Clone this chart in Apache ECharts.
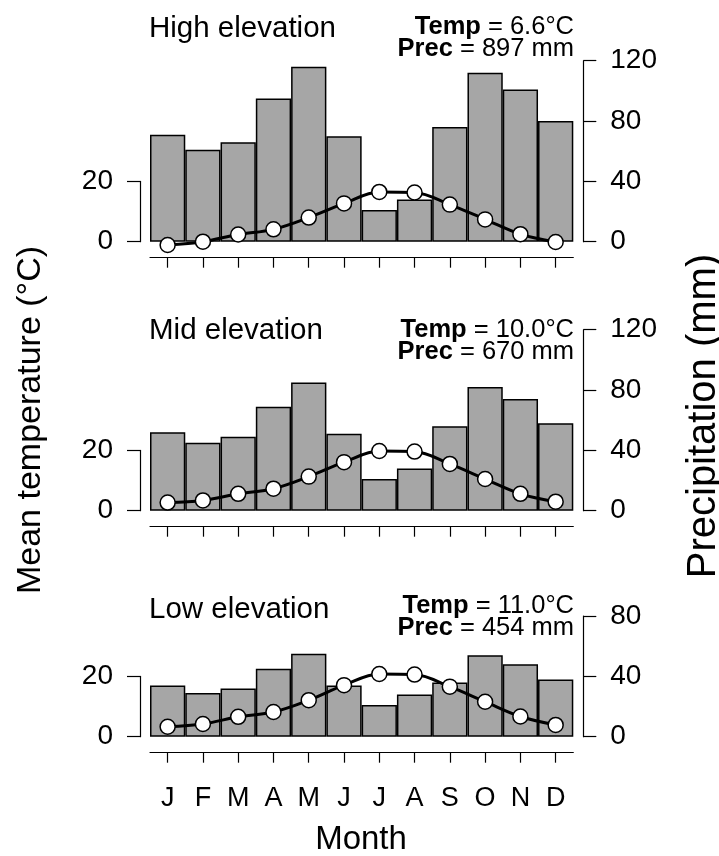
<!DOCTYPE html>
<html>
<head>
<meta charset="utf-8">
<script src="https://cdn.jsdelivr.net/npm/echarts@6/dist/echarts.min.js"></script>
<style>
html,body{margin:0;padding:0;background:#fff;}
#chart{width:719px;height:856px;}
</style>
</head>
<body>
<div id="chart"></div>
<script>
// ---------- data ----------
const months = ['J','F','M','A','M','J','J','A','S','O','N','D'];
const panelTitles = ['High elevation','Mid elevation','Low elevation'];
const tempLabels = ['6.6°C','10.0°C','11.0°C'];
const precLabels = ['897 mm','670 mm','454 mm'];

const precHigh = [71, 61, 66, 95, 116, 70, 21, 28, 76, 112, 101, 80];
const tempHigh = [-1.1, 0.0, 2.4, 4.1, 8.0, 12.7, 16.5, 16.3, 12.3, 7.4, 2.5, -0.1];
const precMid  = [52, 45, 49, 69, 85, 51, 21, 28, 56, 82, 74, 58];
const tempMid  = [2.7, 3.4, 5.6, 7.3, 11.3, 16.1, 19.8, 19.6, 15.5, 10.5, 5.6, 3.0];
const precLow  = [34, 29, 32, 45, 55, 34, 21, 28, 36, 54, 48, 38];
const tempLow  = [3.3, 4.2, 6.6, 8.2, 12.1, 17.1, 20.8, 20.6, 16.6, 11.6, 6.7, 3.9];

const precTicksMax = [120, 120, 80];
const tempTicks = [0, 20];
// ---------- layout ----------
const FONT = "'Liberation Sans', Arial, Helvetica, sans-serif";
const precSeries = [precHigh, precMid, precLow];
const tempSeries = [tempHigh, tempMid, tempLow];
const zeroY = [241.7, 510.7, 736.7];
const pxPerMm = 1.508;
const plotLeft = 150, plotRight = 573.3;
const W = 719;
const titleY = [29, 331, 610];
const tempY = [27, 330, 606];
const precY = [49, 352, 628];

const grid = [], xAxis = [], yAxis = [], series = [], graphic = [];
for (let i = 0; i < 3; i++) {
  const h = precTicksMax[i] * pxPerMm;
  const th = 40 * pxPerMm; // 20 °C == 40 mm
  grid.push({left: plotLeft, right: W - plotRight, top: zeroY[i] - h, height: h});
  grid.push({left: plotLeft, right: W - plotRight, top: zeroY[i] - th, height: th});
  const gMain = 2*i, gTemp = 2*i + 1;
  xAxis.push({
    type: 'category', gridIndex: gMain, data: months, position: 'bottom', offset: 16,
    boundaryGap: true,
    axisLine: {show: true, onZero: false, lineStyle: {color: '#000', width: 1.2}},
    axisTick: {show: true, alignWithLabel: true, length: 10, lineStyle: {color: '#000', width: 1.2}},
    axisLabel: {show: i === 2, color: '#000', fontSize: 27, fontFamily: FONT, margin: 32, interval: 0},
    splitLine: {show: false}
  });
  xAxis.push({type: 'category', gridIndex: gTemp, data: months, show: false, boundaryGap: true});
  yAxis.push({
    type: 'value', gridIndex: gMain, position: 'right', offset: 10,
    min: 0, max: precTicksMax[i], interval: 40,
    axisLine: {show: true, onZero: false, lineStyle: {color: '#000', width: 1.2}},
    axisTick: {show: true, length: 13, lineStyle: {color: '#000', width: 1.2}},
    axisLabel: {color: '#000', fontSize: 28, fontFamily: FONT, margin: 27},
    splitLine: {show: false}
  });
  yAxis.push({
    type: 'value', gridIndex: gTemp, position: 'left', offset: 10,
    min: tempTicks[0], max: tempTicks[1], interval: 20,
    axisLine: {show: true, onZero: false, lineStyle: {color: '#000', width: 1.2}},
    axisTick: {show: true, length: 13, lineStyle: {color: '#000', width: 1.2}},
    axisLabel: {color: '#000', fontSize: 28, fontFamily: FONT, margin: 27},
    splitLine: {show: false}
  });
  series.push({
    type: 'bar', xAxisIndex: 2*i, yAxisIndex: 2*i, data: precSeries[i],
    barCategoryGap: '0%', z: 2,
    itemStyle: {color: '#A6A6A6', borderColor: '#000', borderWidth: 1.5},
    emphasis: {disabled: true}, animation: false
  });
  series.push({
    type: 'line', xAxisIndex: 2*i + 1, yAxisIndex: 2*i + 1, data: tempSeries[i],
    smooth: 0.35, clip: false, z: 5,
    symbol: 'circle', symbolSize: 15, showSymbol: true,
    lineStyle: {color: '#000', width: 3},
    itemStyle: {color: '#fff', borderColor: '#000', borderWidth: 1.5},
    emphasis: {disabled: true}, animation: false
  });
  graphic.push({
    type: 'text', x: 149, y: titleY[i],
    style: {text: panelTitles[i], fill: '#000', fontSize: 29.5, fontFamily: FONT,
            textAlign: 'left', textVerticalAlign: 'middle'}
  });
  graphic.push({
    type: 'text', x: 574, y: tempY[i],
    style: {text: '{b|Temp} = ' + tempLabels[i], fill: '#000', fontSize: 25.5, fontFamily: FONT,
            textAlign: 'right', textVerticalAlign: 'middle',
            rich: {b: {fontWeight: 'bold', fontSize: 25.5, fontFamily: FONT, fill: '#000'}}}
  });
  graphic.push({
    type: 'text', x: 574, y: precY[i],
    style: {text: '{b|Prec} = ' + precLabels[i], fill: '#000', fontSize: 25.5, fontFamily: FONT,
            textAlign: 'right', textVerticalAlign: 'middle',
            rich: {b: {fontWeight: 'bold', fontSize: 25.5, fontFamily: FONT, fill: '#000'}}}
  });
}
graphic.push({
  type: 'text', x: 31, y: 420, rotation: Math.PI / 2,
  style: {text: 'Mean temperature (°C)', fill: '#000', fontSize: 34, fontFamily: FONT,
          textAlign: 'center', textVerticalAlign: 'middle'}
});
graphic.push({
  type: 'text', x: 704, y: 416, rotation: Math.PI / 2,
  style: {text: 'Precipitation (mm)', fill: '#000', fontSize: 40, fontFamily: FONT,
          textAlign: 'center', textVerticalAlign: 'middle'}
});
graphic.push({
  type: 'text', x: 361, y: 840,
  style: {text: 'Month', fill: '#000', fontSize: 33, fontFamily: FONT,
          textAlign: 'center', textVerticalAlign: 'middle'}
});

const chart = echarts.init(document.getElementById('chart'), null, {renderer: 'canvas'});
chart.setOption({
  animation: false,
  backgroundColor: '#fff',
  textStyle: {fontFamily: FONT},
  grid, xAxis, yAxis, series, graphic
});
</script>
</body>
</html>
